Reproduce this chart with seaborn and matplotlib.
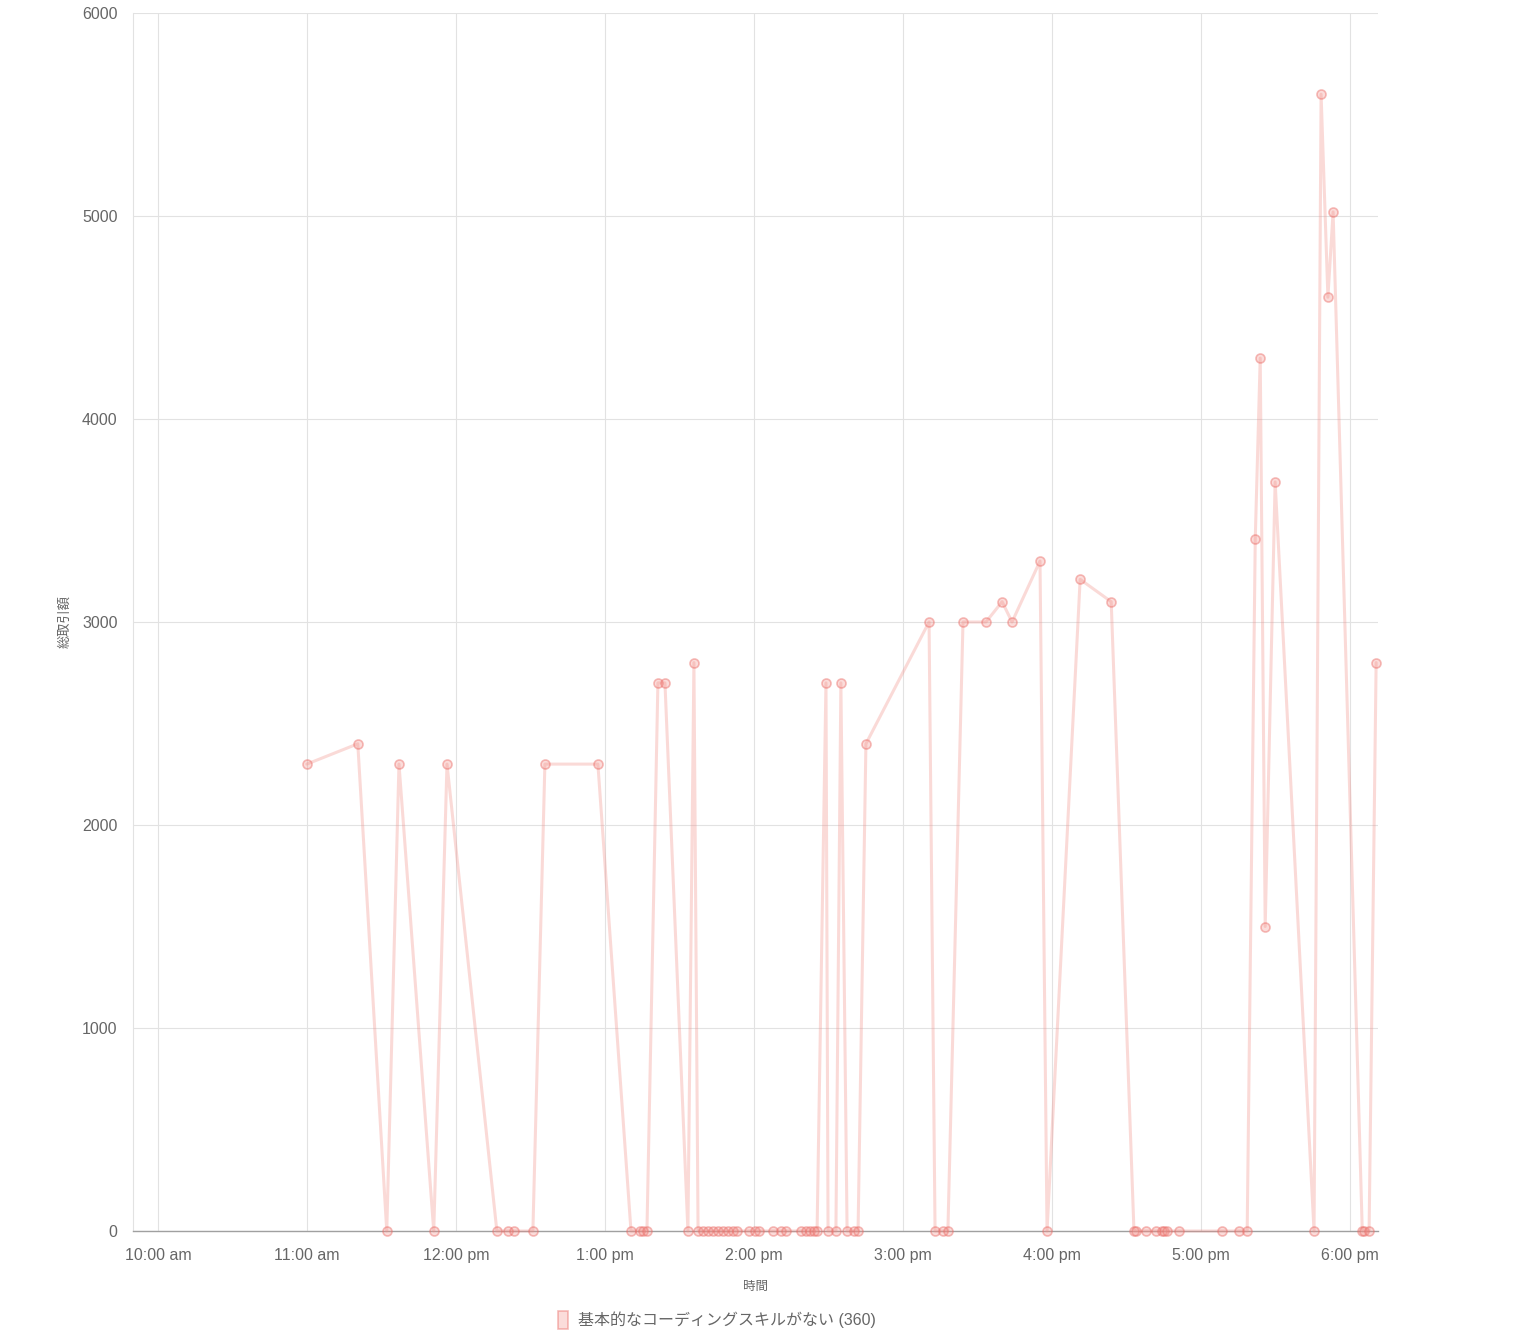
import matplotlib
matplotlib.use("Agg")
import matplotlib.pyplot as plt
import matplotlib.dates as mdates
from matplotlib.patches import Patch
from matplotlib.ticker import FuncFormatter
import seaborn as sns
import pandas as pd

DAY = "2024-01-01"

# time of each trade and total amount
times = [
    "11:00:00", "11:20:30", "11:32:10", "11:37:05", "11:51:05", "11:56:25",
    "12:16:30", "12:20:55", "12:23:25", "12:31:00", "12:35:50", "12:57:10",
    "13:10:30", "13:14:05", "13:15:20", "13:16:55", "13:21:20", "13:24:10",
    "13:33:25", "13:35:50", "13:37:30", "13:39:30", "13:41:30", "13:43:30",
    "13:45:30", "13:47:30", "13:49:30", "13:51:30", "13:53:10", "13:58:00",
    "14:00:25", "14:02:00", "14:07:40", "14:10:55", "14:12:55", "14:18:55",
    "14:21:00", "14:22:35", "14:24:10", "14:25:25", "14:29:00", "14:29:50",
    "14:33:00", "14:35:00", "14:37:30", "14:40:20", "14:41:55", "14:45:05",
    "15:10:30", "15:12:55", "15:16:05", "15:18:05", "15:24:10", "15:33:25",
    "15:39:55", "15:43:55", "15:55:10", "15:58:00", "16:11:20", "16:23:50",
    "16:33:00", "16:33:50", "16:37:55", "16:41:55", "16:44:20", "16:45:05",
    "16:46:20", "16:51:10", "17:08:30", "17:15:20", "17:18:35", "17:21:50",
    "17:23:50", "17:25:50", "17:29:50", "17:45:30", "17:48:20", "17:51:05",
    "17:53:10", "18:04:55", "18:05:40", "18:07:40", "18:10:30",
]
amounts = [
    2300, 2400, 0, 2300, 0, 2300,
    0, 0, 0, 0, 2300, 2300,
    0, 0, 0, 0, 2700, 2700,
    0, 2800, 0, 0, 0, 0,
    0, 0, 0, 0, 0, 0,
    0, 0, 0, 0, 0, 0,
    0, 0, 0, 0, 2700, 0,
    0, 2700, 0, 0, 0, 2400,
    3000, 0, 0, 0, 3000, 3000,
    3100, 3000, 3300, 0, 3210, 3100,
    0, 0, 0, 0, 0, 0,
    0, 0, 0, 0, 0, 3410,
    4300, 1500, 3690, 0, 5600, 4600,
    5020, 0, 0, 0, 2800,
]

series_label = "基本的なコーディングスキルがない (360)"
x_label = "時間"
y_label = "総取引額"
y_ticks = [0, 1000, 2000, 3000, 4000, 5000, 6000]

df = pd.DataFrame({
    "time": pd.to_datetime([f"{DAY} {t}" for t in times]),
    "amount": amounts,
})

sns.set_theme(style="white")
# latin text in a helvetica-like face, japanese falls through to noto cjk
plt.rcParams["font.family"] = ["Liberation Sans", "Noto Sans CJK JP", "DejaVu Sans"]

line_col = (0.95, 0.55, 0.52, 0.32)
face_col = (0.95, 0.55, 0.52, 0.30)
edge_col = (0.92, 0.42, 0.40, 0.45)
grid_col = "#e2e2e2"
text_col = "#666666"

fig = plt.figure(figsize=(15.18, 13.38), dpi=100)
ax = fig.add_axes([133 / 1518, 1 - 1231 / 1338, (1378 - 133) / 1518, (1231 - 13) / 1338])

sns.lineplot(
    data=df, x="time", y="amount", ax=ax, estimator=None, sort=False,
    color=line_col, linewidth=2.2, marker="o", markersize=6.5,
    markerfacecolor=face_col, markeredgecolor=edge_col, markeredgewidth=1.2,
    clip_on=False, zorder=3,
)

ax.set_xlim(pd.Timestamp(f"{DAY} 09:50:00"), pd.Timestamp(f"{DAY} 18:11:15"))
ax.set_ylim(0, 6000)
ax.set_yticks(y_ticks)

ax.xaxis.set_major_locator(mdates.HourLocator())


def fmt_time(v, pos):
    d = mdates.num2date(v)
    h = d.hour % 12 or 12
    return f"{h}:{d.minute:02d} {'am' if d.hour < 12 else 'pm'}"


ax.xaxis.set_major_formatter(FuncFormatter(fmt_time))

ax.grid(True, color=grid_col, linewidth=0.8)
ax.set_axisbelow(True)
for side in ["top", "right"]:
    ax.spines[side].set_visible(False)
ax.spines["left"].set_color(grid_col)
ax.spines["left"].set_linewidth(0.8)
ax.spines["bottom"].set_color("#a0a0a0")
ax.spines["bottom"].set_linewidth(1.0)

ax.tick_params(axis="both", length=7, width=0.8, color=grid_col,
               labelcolor=text_col, labelsize=11.5, pad=4)
ax.tick_params(axis="x", pad=5.5)

ax.set_xlabel(x_label, fontsize=9, color=text_col, labelpad=13)
ax.set_ylabel(y_label, fontsize=9.5, color=text_col, labelpad=8)

handle = Patch(facecolor=face_col, edgecolor=edge_col, linewidth=1.2)
fig.legend([handle], [series_label], loc="center",
           bbox_to_anchor=(717 / 1518, 1 - 1320 / 1338), frameon=False,
           fontsize=11.5, labelcolor=text_col, handlelength=0.6, handleheight=1.3,
           handletextpad=0.6)

fig.savefig("out.png", dpi=100)
